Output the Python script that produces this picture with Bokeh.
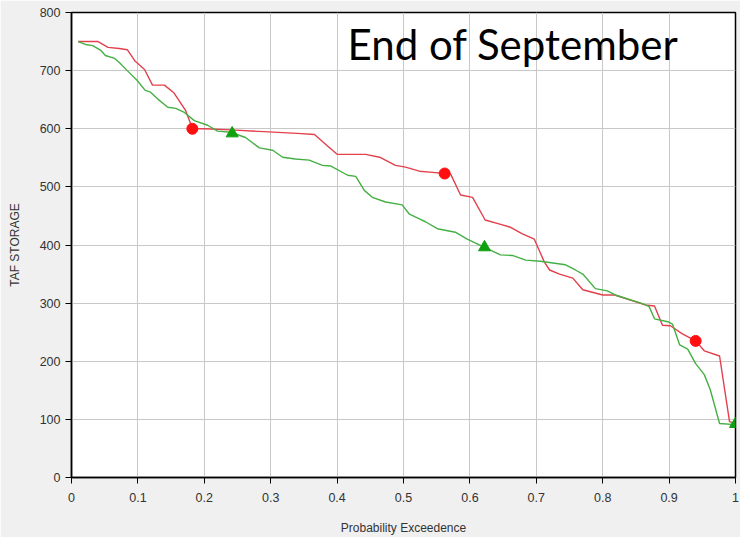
from bokeh.plotting import figure
from bokeh.models import Label, Range1d, FixedTicker
from bokeh.embed import file_html
from bokeh.resources import INLINE

# Red series (probability exceedence, TAF storage)
red_x = [0.01, 0.04, 0.055, 0.072, 0.084, 0.096, 0.11, 0.122, 0.14, 0.154, 0.172, 0.179, 0.182,
         0.20, 0.24, 0.34, 0.366, 0.383, 0.40, 0.443, 0.464, 0.488, 0.503, 0.524, 0.544,
         0.562, 0.571, 0.586, 0.604, 0.623, 0.645, 0.66, 0.679, 0.697, 0.712, 0.72, 0.735,
         0.755, 0.77, 0.80, 0.818, 0.864, 0.878, 0.89, 0.902, 0.92, 0.94, 0.953, 0.976,
         0.991, 1.0]
red_y = [750, 750, 740, 738, 736, 716, 702, 675, 675, 662, 631, 610, 600,
         600, 598, 592, 590, 573, 556, 556, 551, 537, 534, 527, 525,
         523, 522, 486, 482, 443, 436, 431, 419, 410, 371, 357, 350,
         343, 323, 314, 314, 297, 295, 262, 261, 247, 235, 218, 209,
         96, 93]

# Green series
green_x = [0.01, 0.021, 0.032, 0.044, 0.051, 0.065, 0.072, 0.084, 0.099, 0.111, 0.119, 0.13,
           0.145, 0.157, 0.17, 0.185, 0.205, 0.22, 0.24, 0.262, 0.283, 0.303, 0.318, 0.337,
           0.358, 0.378, 0.39, 0.416, 0.428, 0.441, 0.453, 0.473, 0.498, 0.509, 0.524, 0.533,
           0.551, 0.578, 0.596, 0.622, 0.646, 0.664, 0.684, 0.706, 0.744, 0.759, 0.77, 0.789,
           0.807, 0.819, 0.86, 0.87, 0.878, 0.898, 0.905, 0.916, 0.928, 0.94, 0.953, 0.962,
           0.976, 1.0]
green_y = [750, 745, 743, 735, 726, 721, 714, 700, 683, 666, 663, 651,
           637, 635, 628, 614, 606, 596, 594, 585, 567, 563, 551, 548,
           546, 537, 536, 520, 518, 494, 482, 474, 469, 453, 445, 440,
           428, 422, 410, 396, 383, 382, 374, 372, 366, 357, 350, 325,
           321, 314, 299, 294, 273, 268, 264, 228, 221, 196, 177, 151,
           93, 91]

red_mark_x = [0.182, 0.562, 0.94]
red_mark_y = [600, 523, 235]
green_mark_x = [0.242, 0.622, 1.0]
green_mark_y = [592, 396, 92]

x_ticks = [0, 0.1, 0.2, 0.3, 0.4, 0.5, 0.6, 0.7, 0.8, 0.9, 1.0]
x_tick_labels = ["0", "0.1", "0.2", "0.3", "0.4", "0.5", "0.6", "0.7", "0.8", "0.9", "1"]
y_ticks = [0, 100, 200, 300, 400, 500, 600, 700, 800]

title_text = "End of September"

p = figure(width=740, height=537, output_backend="svg", toolbar_location=None,
           x_range=Range1d(0, 1), y_range=Range1d(0, 800),
           min_border_left=71, min_border_right=5, min_border_top=12, min_border_bottom=59)

p.background_fill_color = "white"
p.border_fill_color = "#f0f0f0"
p.outline_line_color = "black"
p.outline_line_width = 1.5

p.line(red_x, red_y, line_color="#e2404c", line_width=1.4)
p.line(green_x, green_y, line_color="#44b044", line_width=1.4)
p.scatter(red_mark_x, red_mark_y, marker="circle", size=11, fill_color="#ff1010", line_color="#ff1010")
p.scatter(green_mark_x, green_mark_y, marker="triangle", size=12, fill_color="#10a010", line_color="#10a010")

for ax in (p.xaxis[0], p.yaxis[0]):
    ax.axis_line_color = "black"
    ax.axis_line_width = 1.5
    ax.major_tick_line_color = "black"
    ax.major_tick_out = 6
    ax.major_tick_in = 0
    ax.minor_tick_line_color = None
    ax.major_label_text_font = "Liberation Sans"
    ax.major_label_text_font_size = "12.5px"
    ax.major_label_text_color = "#333333"
    ax.axis_label_text_font = "Liberation Sans"
    ax.axis_label_text_font_size = "12px"
    ax.axis_label_text_font_style = "normal"
    ax.axis_label_text_color = "#333333"

p.xaxis.ticker = FixedTicker(ticks=x_ticks)
p.xaxis.major_label_overrides = {t: l for t, l in zip(x_ticks, x_tick_labels)}
p.xaxis.major_label_standoff = 9
p.yaxis.ticker = FixedTicker(ticks=y_ticks)
p.xaxis.axis_label = "Probability Exceedence"
p.yaxis.axis_label = "TAF STORAGE"
p.xaxis.axis_label_standoff = 16
p.yaxis.axis_label_standoff = 15

p.grid.grid_line_color = "#c8c8c8"
p.grid.grid_line_width = 1

p.add_layout(Label(x=0.4157, y=746, text=title_text, text_font="Lato",
                   text_font_size="42px", text_color="black", text_baseline="alphabetic"))

open("out.html", "w").write(file_html(p, INLINE))
